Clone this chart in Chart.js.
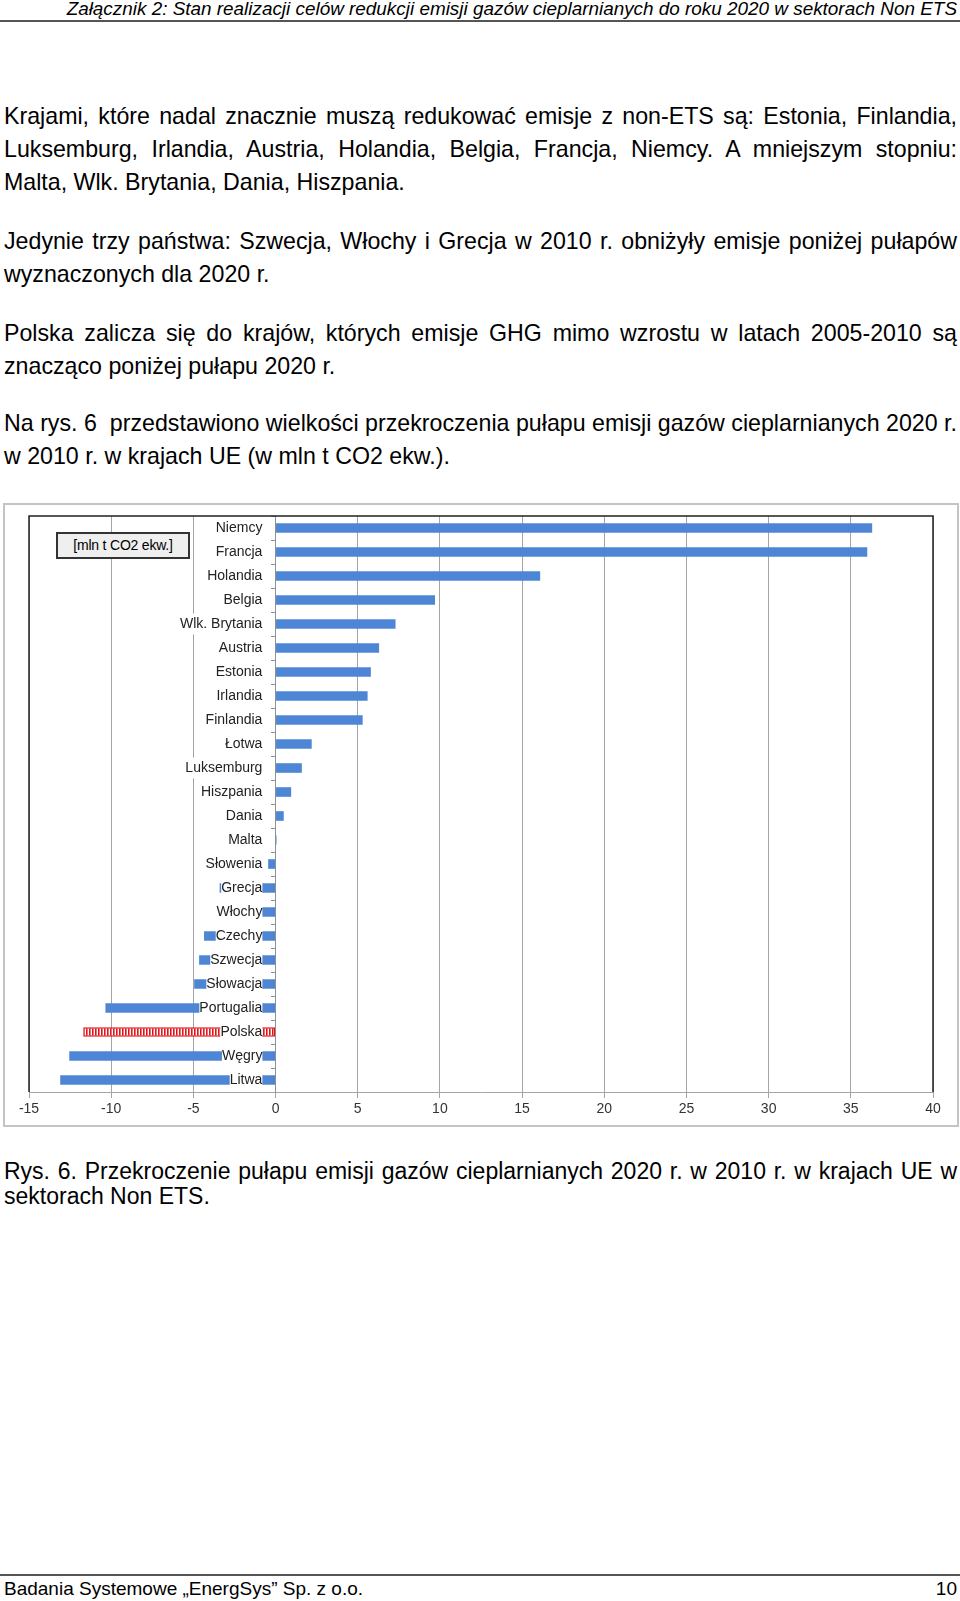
<!DOCTYPE html>
<html lang="pl">
<head>
<meta charset="utf-8">
<title>Przekroczenie pułapu emisji</title>
<script src="https://cdn.jsdelivr.net/npm/chart.js@4.4.1/dist/chart.umd.min.js"></script>
<style>
  html, body { margin: 0; padding: 0; background: #fff; }
  body { width: 960px; height: 1601px; position: relative; overflow: hidden;
         font-family: "Liberation Sans", Arial, sans-serif; color: #000; }
  .hdr { position: absolute; right: 3px; top: -2px; font-family: "Liberation Sans Narrow", "Liberation Sans", sans-serif;
         font-style: italic; font-size: 18.9px; line-height: 22px; white-space: nowrap; }
  .rule { position: absolute; left: 0; width: 960px; height: 2px; background: #555; }
  .para { position: absolute; left: 4px; width: 953px; font-size: 23.2px; line-height: 33px; }
  .para div { white-space: nowrap; }
  .para div.j { text-align: justify; text-align-last: justify; white-space: normal; }
  .chartbox { position: absolute; left: 3px; top: 503px; width: 952px; height: 620px;
              border: 2px solid #c4c4c4; background: #fff; }
  .chartbox canvas { position: absolute; left: 0; top: 0; }
  .unit { position: absolute; left: 51px; top: 27px; width: 134px; height: 27px; box-sizing: border-box;
          border: 2px solid #333; background: #efefef; font-size: 14px; line-height: 23px; text-align: center;
          letter-spacing: -0.2px; }
  .caption { position: absolute; left: 4px; top: 1158.6px; width: 953px; font-size: 23px; line-height: 25.6px; }
  .caption div { white-space: nowrap; }
  .caption div.j { text-align: justify; text-align-last: justify; white-space: normal; }
  .foot { position: absolute; top: 1578px; font-family: "Liberation Sans Narrow", "Liberation Sans", sans-serif;
          font-size: 19px; line-height: 22px; white-space: nowrap; }
</style>
</head>
<body>
<div class="hdr">Załącznik 2: Stan realizacji celów redukcji emisji gazów cieplarnianych do roku 2020 w sektorach Non ETS</div>
<div class="rule" style="top:20px"></div>

<div class="para" style="top:100px">
  <div class="j">Krajami, które nadal znacznie muszą redukować emisje z non-ETS są: Estonia, Finlandia,</div>
  <div class="j">Luksemburg, Irlandia, Austria, Holandia, Belgia, Francja, Niemcy. A mniejszym stopniu:</div>
  <div>Malta, Wlk. Brytania, Dania, Hiszpania.</div>
</div>
<div class="para" style="top:224.5px">
  <div class="j">Jedynie trzy państwa: Szwecja, Włochy i Grecja w 2010 r. obniżyły emisje poniżej pułapów</div>
  <div>wyznaczonych dla 2020 r.</div>
</div>
<div class="para" style="top:316.5px">
  <div class="j">Polska zalicza się do krajów, których emisje GHG mimo wzrostu w latach 2005-2010 są</div>
  <div>znacząco poniżej pułapu 2020 r.</div>
</div>
<div class="para" style="top:407.3px">
  <div class="j">Na rys. 6&nbsp; przedstawiono wielkości przekroczenia pułapu emisji gazów cieplarnianych 2020 r.</div>
  <div>w 2010 r. w krajach UE (w mln t CO2 ekw.).</div>
</div>

<div class="chartbox">
  <canvas id="chart" width="952" height="620"></canvas>
  <div class="unit">[mln t CO2 ekw.]</div>
</div>

<div class="caption">
  <div class="j">Rys. 6. Przekroczenie pułapu emisji gazów cieplarnianych 2020 r. w 2010 r. w krajach UE w</div>
  <div>sektorach Non ETS.</div>
</div>

<div class="rule" style="top:1574px"></div>
<div class="foot" style="left:4px">Badania Systemowe „EnergSys” Sp. z o.o.</div>
<div class="foot" style="right:3px">10</div>

<script>
// przekroczenie pulapu 2020 w 2010 r., mln t CO2 ekw.
const countries = ['Niemcy', 'Francja', 'Holandia', 'Belgia', 'Wlk. Brytania', 'Austria', 'Estonia',
  'Irlandia', 'Finlandia', 'Łotwa', 'Luksemburg', 'Hiszpania', 'Dania', 'Malta', 'Słowenia', 'Grecja',
  'Włochy', 'Czechy', 'Szwecja', 'Słowacja', 'Portugalia', 'Polska', 'Węgry', 'Litwa'];
const excess = [36.3, 36.0, 16.1, 9.7, 7.3, 6.3, 5.8, 5.6, 5.3, 2.2, 1.6, 0.95, 0.5, 0.06, -0.45, -3.4,
  -2.6, -4.35, -4.65, -4.95, -10.35, -11.7, -12.55, -13.1];
const xMin = -15, xMax = 40, xStep = 5;
const highlight = 'Polska';

const FONT = '"Liberation Sans", Arial, sans-serif';
const BLUE = '#4d86d4';
const RED = '#e0161b';

const canvas = document.getElementById('chart');
const ctx = canvas.getContext('2d');

// striped fill for Polska
const pc = document.createElement('canvas');
pc.width = 3; pc.height = 8;
const pg = pc.getContext('2d');
pg.fillStyle = '#fff'; pg.fillRect(0, 0, 3, 8);
pg.fillStyle = RED; pg.fillRect(0, 0, 1.6, 8);
const stripes = ctx.createPattern(pc, 'repeat');

const frame = {
  id: 'frame',
  beforeDatasetsDraw(chart) {
    const a = chart.chartArea, c = chart.ctx;
    c.save();
    c.strokeStyle = '#222';
    c.lineWidth = 1.5;
    c.beginPath();
    c.moveTo(a.left, a.bottom);
    c.lineTo(a.left, a.top);
    c.lineTo(a.right, a.top);
    c.lineTo(a.right, a.bottom);
    c.stroke();
    c.restore();
  }
};

new Chart(canvas, {
  type: 'bar',
  data: {
    labels: countries,
    datasets: [{
      data: excess,
      backgroundColor: countries.map(c => c === highlight ? stripes : BLUE),
      borderColor: countries.map(c => c === highlight ? RED : BLUE),
      borderWidth: countries.map(c => c === highlight ? 1.5 : 0),
      borderSkipped: false,
      categoryPercentage: 1,
      barPercentage: 0.4,
    }]
  },
  options: {
    indexAxis: 'y',
    responsive: false,
    animation: false,
    events: [],
    layout: { padding: { left: 24, right: 24, top: 11, bottom: 7 } },
    plugins: { legend: { display: false }, tooltip: { enabled: false } },
    scales: {
      x: {
        min: xMin, max: xMax,
        ticks: { stepSize: xStep, padding: 3, color: '#333', font: { family: FONT, size: 14 } },
        grid: { color: '#a4a4a4', lineWidth: 1, tickLength: 6, tickColor: '#a4a4a4' },
        border: { color: '#a4a4a4', width: 1 },
        afterFit(s) { s.height = 26; }
      },
      // zero line with category ticks
      y: {
        position: { x: 0 },
        offset: true,
        grid: { drawOnChartArea: false, offset: true, tickLength: 4, color: '#909090' },
        border: { color: '#909090', width: 1 },
        ticks: { display: false, autoSkip: false, padding: 0 }
      },
      // country names, set a little left of zero, over the bars
      yl: {
        type: 'category',
        axis: 'y',
        position: { x: -0.8 },
        offset: true,
        grid: { display: false },
        border: { display: false },
        ticks: {
          z: 1, autoSkip: false, padding: 0, color: '#222',
          font: { family: FONT, size: 14 },
          showLabelBackdrop: true, backdropColor: '#fff',
          backdropPadding: { top: 2, bottom: 2, left: 0, right: 0 }
        }
      }
    }
  },
  plugins: [frame]
});
</script>
</body>
</html>
